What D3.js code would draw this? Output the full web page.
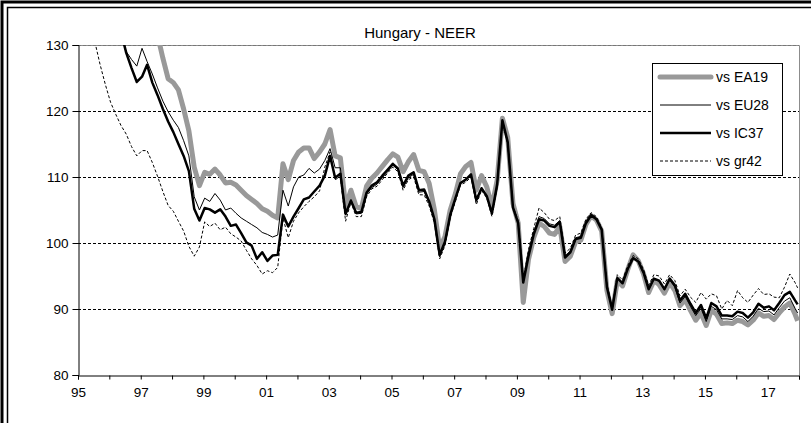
<!DOCTYPE html>
<html>
<head>
<meta charset="utf-8">
<script src="https://cdn.jsdelivr.net/npm/d3@7"></script>
<style>
body{margin:0;background:#fff;}
svg{display:block;font-family:"Liberation Sans",Arial,sans-serif;}
</style>
</head>
<body>
<div id="chart"></div>
<script>
// Hungary NEER, bi-monthly readings (Jan, Mar, May, Jul, Sep, Nov) 1995-2017 + Dec 2017
var seriesNames = ["vs EA19", "vs EU28", "vs IC37", "vs gr42"];
var yTicks = [80, 90, 100, 110, 120, 130];

var ea19 = [
 175,172,168,164,160,155,
 150,146,142,139,136,133.5,
 132,131.5,131,131.5,128,124.9,
 124.3,123.2,120.3,117,111.5,108.7,
 110.7,110.4,111.2,110.3,109.1,109.2,
 108.8,108,107.2,106.6,106,105.2,
 104.8,104.2,103.8,112,109.6,112.5,
 113.8,114.4,114.4,112.8,113.8,115,
 117.2,113.2,112.9,105.5,108,105.5,
 105.2,108.6,109.8,110.6,111.6,112.6,
 113.5,113,110.8,112.3,113.4,111,
 110.8,109,105,99.2,101,105,
 107.5,110.5,111.6,112.2,108,110.2,
 108.5,105.5,109.5,118.9,116,106,
 103,91,97.5,100.8,103,102.5,
 101.5,101.3,102.5,97.2,98,100.2,
 100.4,102.8,104.1,103.5,101.8,92.8,
 89.3,94.3,93.5,96,98.2,97.3,
 95.3,92.5,94.3,93.7,92.4,94,
 92.8,90.5,91.4,89.8,88.3,89.4,
 87.5,89.8,89.2,87.8,87.9,87.8,
 88.3,88.1,87.6,88.3,89.4,88.9,
 89,88.4,89.4,90.3,90.9,89.2,88.2
];
var eu28 = [
 162,159,155,151,147,142,
 137,134,131.5,129,127.8,126.8,
 129.5,127.5,125.6,123.5,121.5,119.9,
 118.6,117.5,115.5,113.2,107,105,
 106.8,106.3,107.5,106.5,105,105.3,
 104.5,103.8,103.3,102.8,102.3,101.6,
 101.3,100.9,101.2,108,105.6,108.5,
 110,110.3,111.3,110.6,111.2,112.5,
 114.3,111.4,111.4,104.3,106.6,104.4,
 104.5,107.4,108.4,108.9,109.9,110.8,
 111.8,111.1,108.4,109.9,110.4,107.7,
 107.8,106,103.3,97.9,99.9,104,
 106.6,109,109.5,110.3,106.3,108.2,
 107,104.4,108.8,118.5,115.2,105.3,
 103.1,94.4,98.5,101.6,104,103.7,
 102.9,102.7,103.4,98,98.8,100.8,
 101,103.2,104.4,103.8,102.2,93.4,
 89.9,94.7,93.9,96.1,97.7,97.2,
 95.4,92.9,94.5,94.2,92.9,94.4,
 93.3,90.9,91.9,90.4,89,90.1,
 88.1,90.4,89.9,88.5,88.5,88.4,
 89,88.8,88.1,88.9,90.1,89.6,
 89.7,89.1,90.2,91.2,91.7,90.1,89.4
];
var ic37 = [
 165,162,158,154,150,145,
 139,135,132,128.8,126.5,124.4,
 125.2,127,124.3,122.4,120.3,118.4,
 116.8,115,113.2,110.9,105.2,103.4,
 105.3,105.1,104.6,105.1,104,102.6,
 102.8,101.5,100.1,99.6,97.6,98.6,
 97.3,98.1,98.2,104.3,102.5,104,
 105.3,106.6,106.9,107.8,108.7,110.2,
 113.2,109.9,110.5,104.4,106.4,104.6,
 104.7,107.6,108.7,109.2,110.2,111.1,
 112,111.3,108.7,110.2,110.7,108,
 108.1,106.3,103.6,98.2,100.2,104.3,
 106.8,109.1,109.6,110.4,106.5,108.3,
 107.1,104.5,108.9,118.6,115.3,105.4,
 103,94,98,101.3,103.6,103.4,
 102.6,102.4,103.2,97.8,98.6,100.6,
 100.8,103,104.2,103.6,102,93.3,
 89.9,94.7,93.9,96.1,97.7,97.2,
 95.5,93,94.6,94.3,93,94.6,
 93.6,91.3,92.3,90.8,89.4,90.6,
 88.6,90.9,90.4,89,89,88.9,
 89.6,89.4,88.7,89.5,90.8,90.2,
 90.4,89.8,90.9,92.1,92.6,91.3,90.7
];
var gr42 = [
 140,136.5,133,130.5,127,124,
 121.3,119.5,117.8,116.5,114.6,113.2,
 114,114,112.2,110.1,107.8,105.7,
 104.8,103.3,101.8,99.5,98,99.4,
 103.2,102.5,103,102,102.4,101.4,
 100.9,100.3,98.9,97.6,96.6,95.3,
 95.8,95.5,96.3,103.8,100.8,103.3,
 104.6,105.5,106.3,107,107.9,111.5,
 113.8,109.6,110,103.3,106.2,104,
 104,107,108.2,108.6,109.6,110.6,
 111.5,110.8,108,109.6,110,107.3,
 107.3,105.6,103,97.6,99.6,103.8,
 106.3,108.8,109.2,110,105.8,108,
 106.8,104,108.4,118.2,115,105.6,
 103.4,94.6,99,102.2,105.3,104.6,
 103.6,103.4,104,98.5,99.2,101.2,
 101.5,103.6,104.6,104,102.3,93.8,
 90.4,95.2,94.4,96.6,98.1,97.6,
 96,93.6,95.2,95,93.8,95.2,
 94.3,92,93,91.8,91,92.5,
 91.5,92.3,92,90,91.3,90.5,
 92.8,91.7,91,92.1,93.1,92.2,
 92.3,91.8,91.7,93.3,95.3,94,93.2
];

// every second month from Jan 1995, plus Dec 2017 at the end
var dates = d3.timeMonth.range(new Date(1995,0,1), new Date(2018,0,1), 1)
  .filter(function(d,i){ return i % 2 === 0 || i === 275; });

var W = 811, H = 423;
var svg = d3.select("#chart").append("svg").attr("width",W).attr("height",H);

// double frame (Excel chart border)
svg.append("rect").attr("x",2).attr("y",2).attr("width",W+20).attr("height",H+20)
  .attr("fill","none").attr("stroke","#000").attr("stroke-width",3);
svg.append("rect").attr("x",7.5).attr("y",7.5).attr("width",W+20).attr("height",H+20)
  .attr("fill","none").attr("stroke","#000").attr("stroke-width",1.5);

var x = d3.scaleTime().domain([new Date(1995,0,1), new Date(2018,0,1)]).range([78,799]);
var y = d3.scaleLinear().domain([80,130]).range([375,45]);

// plot border (grey, top and right)
svg.append("path").attr("d","M78,45.5H799.5V375").attr("fill","none").attr("stroke","#8c8c8c").attr("stroke-width",1);

// grid lines
svg.append("g").selectAll("line").data(yTicks.filter(function(v){return v>80;})).enter().append("line")
  .attr("x1",78).attr("x2",799).attr("y1",function(d){return Math.round(y(d))+0.5;}).attr("y2",function(d){return Math.round(y(d))+0.5;})
  .attr("stroke",function(d){return d==130?"#777":"#000";}).attr("stroke-dasharray","3,2").attr("stroke-width",1);

// axes
var yAxis = svg.append("g").attr("transform","translate(78.5,0)")
  .call(d3.axisLeft(y).tickValues(yTicks).tickSize(6).tickPadding(4));
var xAxis = svg.append("g").attr("transform","translate(0,375.5)")
  .call(d3.axisBottom(x).ticks(d3.timeYear.every(1)).tickSize(4).tickPadding(8)
    .tickFormat(function(d){ return d.getFullYear()%2===1 ? d3.timeFormat("%y")(d) : ""; }));
[yAxis,xAxis].forEach(function(g){
  g.select(".domain").attr("stroke","#000");
  g.selectAll("line").attr("stroke","#000");
  g.selectAll("text").attr("font-size",13.5).attr("fill","#000").attr("font-family","Liberation Sans, Arial, sans-serif");
});

// title
svg.append("text").attr("x",420).attr("y",38).attr("text-anchor","middle")
  .attr("font-size",15).text("Hungary - NEER");

// clip lines to plot area
svg.append("clipPath").attr("id","plotclip").append("rect")
  .attr("x",78).attr("y",45).attr("width",721).attr("height",330);

var styles = [
  {data:ea19, color:"#999", width:5, dash:null},
  {data:eu28, color:"#000", width:1, dash:null},
  {data:ic37, color:"#000", width:2.5, dash:null},
  {data:gr42, color:"#000", width:1, dash:"3,2"}
];

var line = d3.line()
  .x(function(d,i){ return x(d3.timeDay.offset(dates[i],15)); })
  .y(function(d){ return y(d); });

var lines = svg.append("g").attr("clip-path","url(#plotclip)");
styles.forEach(function(s){
  lines.append("path").datum(s.data)
    .attr("fill","none").attr("stroke",s.color).attr("stroke-width",s.width)
    .attr("stroke-linejoin","round").attr("stroke-dasharray",s.dash)
    .attr("d",line);
});

// legend
var lg = svg.append("g");
lg.append("rect").attr("x",652.5).attr("y",63.5).attr("width",130).attr("height",112)
  .attr("fill","#fff").attr("stroke","#000").attr("stroke-width",1);
styles.forEach(function(s,i){
  var ly = 77 + i*28;
  lg.append("line").attr("x1",660).attr("x2",711).attr("y1",ly).attr("y2",ly)
    .attr("stroke",s.color).attr("stroke-width",s.width).attr("stroke-dasharray",s.dash)
    .attr("stroke-linecap",s.width>3?"round":"butt");
  lg.append("text").attr("x",716).attr("y",ly+5).attr("font-size",14).text(seriesNames[i]);
});
</script>
</body>
</html>
